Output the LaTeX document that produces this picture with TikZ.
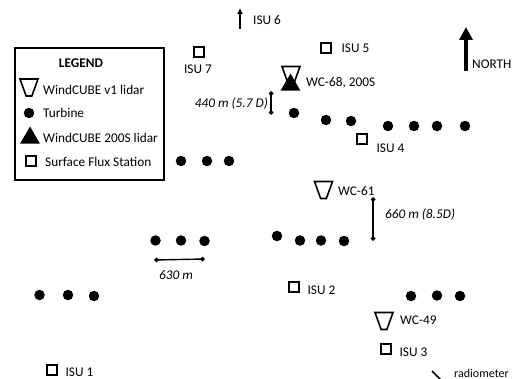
\documentclass[tikz,border=0pt]{standalone}
\usepackage{fontspec}
\setmainfont{Carlito}
\usetikzlibrary{shapes.geometric, positioning, arrows.meta}
\tikzset{
  turbine/.style={circle, fill=black, inner sep=0pt, minimum size=10.5pt},
  station/.style={rectangle, draw=black, line width=2.2pt, fill=white, inner sep=0pt, minimum size=10.5pt},
  lidarvone/.style={trapezium, trapezium left angle=43, trapezium right angle=43, trapezium stretches=true, shape border rotate=180, draw=black, line width=1.6pt, inner sep=1pt, minimum width=18pt, minimum height=17pt},
  lidartwo/.style={regular polygon, regular polygon sides=3, fill=black, inner sep=0pt, minimum size=23pt},
  txt/.style={inner sep=0pt, font=\fontsize{13.3}{15}\selectfont},
  dim/.style={txt, font=\fontsize{13.3}{15}\selectfont\itshape},
  span/.style={line width=1.4pt, {Diamond[length=5pt,width=5pt]}-{Diamond[length=5pt,width=5pt]}}
}
\begin{document}
\begin{tikzpicture}[x=1pt, y=-1pt, node distance=4pt and 5pt]
  \clip (0,0) rectangle (513,379);

  % Leyenda
  \node (legendbox) [rectangle, draw=black, line width=1.5pt, minimum width=149pt, minimum height=132pt, inner sep=0pt] at (89.5,114) {};
  \node (legendtitle) [txt, font=\fontsize{13.3}{15}\selectfont\bfseries] at (81,63) {LEGEND};
  \node (keyvone) [lidarvone] at (29,87.5) {};
  \node (keyturbine) [turbine] at (29,113) {};
  \node (keytwo) [lidartwo] at (30,138) {};
  \node (keystation) [station] at (31,161) {};
  \node (txtvone) [txt, anchor=west] at (43,90) {WindCUBE v1 lidar};
  \node (txtturbine) [txt, anchor=west] at (43,113) {Turbine};
  \node (txttwo) [txt, anchor=west] at (43,138) {WindCUBE 200S lidar};
  \node (txtstation) [txt, anchor=west] at (45,162) {Surface Flux Station};

  % Turbinas
  \foreach \x/\y [count=\i] in {181/161, 207/161, 229/161,
      294/113, 326/120, 351/121, 388/126, 414/126, 437/126, 465/126,
      277/236, 300/240.5, 321/240.5, 344/241,
      155.5/240.5, 181/240.5, 204.5/241,
      39.5/295, 68/295, 94/296,
      411/296, 437/295.5, 460/296}
    \node (turbine\i) [turbine] at (\x,\y) {};

  % Estaciones
  \node (isu7) [station] at (199,52) {};
  \node (isu5) [station] at (326,48) {};
  \node (isu4) [station] at (362,139) {};
  \node (isu2) [station] at (294,287) {};
  \node (isu3) [station] at (386,349) {};
  \node (isu1) [station] at (52,370) {};
  \node (txtisu7) [txt, below=6pt of isu7, xshift=-1pt] {ISU 7};
  \node (txtisu5) [txt, right=9pt of isu5] {ISU 5};
  \node (txtisu4) [txt, below right=-2pt and 8pt of isu4] {ISU 4};
  \node (txtisu2) [txt, right=7pt of isu2, yshift=-3pt] {ISU 2};
  \node (txtisu3) [txt, right=7pt of isu3, yshift=-3pt] {ISU 3};
  \node (txtisu1) [txt, right=7pt of isu1, yshift=-2pt] {ISU 1};

  % Lidares
  \node (wc68v) [lidarvone] at (291,75) {};
  \node (wc68) [lidartwo] at (290.5,85) {};
  \node (wc61) [lidarvone] at (323.5,190) {};
  \node (wc49) [lidarvone] at (384,321) {};
  \node (txtwc68) [txt, anchor=west] at (306,83) {WC-68, 200S};
  \node (txtwc61) [txt, anchor=west] at (338,191) {WC-61};
  \node (txtwc49) [txt, anchor=west] at (400,320) {WC-49};

  % Flechas
  \coordinate (isu6tail) at (240,29);
  \coordinate (isu6head) at (240,8);
  \node (txtisu6) [txt, anchor=west] at (253,20) {ISU 6};
  \draw [line width=1.5pt, -{Latex[length=6pt,width=6pt]}] (isu6tail) -- (isu6head);
  \coordinate (northtail) at (466,71);
  \coordinate (northhead) at (466,27);
  \node (txtnorth) [txt, anchor=west] at (472,64) {NORTH};
  \draw [line width=4pt, -{Triangle[length=13pt,width=13pt]}] (northtail) -- (northhead);

  % Distancias
  \coordinate (d440a) at (271,91);
  \coordinate (d440b) at (271,115);
  \coordinate (d660a) at (373,197);
  \coordinate (d660b) at (373,241);
  \coordinate (d630a) at (154,260);
  \coordinate (d630b) at (205,259);
  \draw [span] (d440a) -- (d440b);
  \draw [span] (d660a) -- (d660b);
  \draw [span] (d630a) -- (d630b);
  \node (txt440) [dim, anchor=east] at (268,104) {440 m (5.7 D)};
  \node (txt660) [dim, anchor=west] at (385,215) {660 m (8.5D)};
  \node (txt630) [dim] at (176,275) {630 m};

  % Radiometro
  \coordinate (radioa) at (432,371);
  \coordinate (radiob) at (442,381);
  \draw [line width=1.5pt] (radioa) -- (radiob);
  \node (txtradio) [txt, anchor=west, font=\fontsize{12}{15}\selectfont] at (454,373.5) {radiometer};
\end{tikzpicture}
\end{document}
